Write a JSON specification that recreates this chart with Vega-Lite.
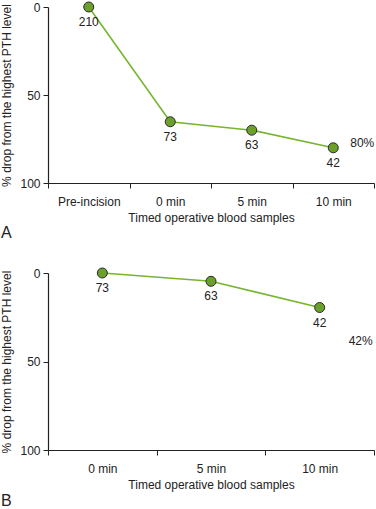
{
  "$schema": "https://vega.github.io/schema/vega-lite/v6.json",
  "padding": {"left": 0, "top": 0, "right": 0, "bottom": 5},
  "config": {
    "font": "Liberation Sans",
    "view": {"stroke": null},
    "axis": {
      "labelFontSize": 12, "titleFontSize": 12, "titleFontWeight": "normal",
      "labelColor": "#222", "titleColor": "#222", "domainColor": "#222", "tickColor": "#222",
      "grid": false, "tickSize": 5, "domainWidth": 1.2
    },
    "title": {"fontSize": 16, "fontWeight": "normal", "color": "#222"}
  },
  "datasets": {
    "a": [
      {"sample": "Pre-incision", "drop": 0, "pth": "210"},
      {"sample": "0 min", "drop": 65.2, "pth": "73"},
      {"sample": "5 min", "drop": 70, "pth": "63"},
      {"sample": "10 min", "drop": 80, "pth": "42"}
    ],
    "annA": [{"sample": "10 min", "drop": 77.5, "label": "80%"}],
    "b": [
      {"sample": "0 min", "drop": 0, "pth": "73"},
      {"sample": "5 min", "drop": 4.7, "pth": "63"},
      {"sample": "10 min", "drop": 19.5, "pth": "42"}
    ],
    "annB": [{"sample": "10 min", "drop": 38.2, "label": "42%"}]
  },
  "spacing": 25,
  "vconcat": [
    {
      "width": 326, "height": 176,
      "title": {"text": "A", "orient": "bottom", "anchor": "start", "frame": "bounds", "offset": 2},
      "encoding": {
        "x": {"field": "sample", "type": "nominal", "sort": null,
              "scale": {"domain": ["Pre-incision", "0 min", "5 min", "10 min"], "paddingInner": 0, "paddingOuter": 0},
              "axis": {"title": "Timed operative blood samples", "labelAngle": 0, "tickBand": "extent", "labelPadding": 8, "titlePadding": 5}},
        "y": {"field": "drop", "type": "quantitative",
              "scale": {"domain": [0, 100], "reverse": true, "nice": false},
              "axis": {"title": "% drop from the highest PTH level", "values": [0, 50, 100], "labelPadding": 3, "titlePadding": 6}}
      },
      "layer": [
        {"data": {"name": "a"}, "mark": {"type": "line", "color": "#77b52f", "strokeWidth": 1.6}},
        {"data": {"name": "a"}, "mark": {"type": "point", "filled": true, "fill": "#6ca02c", "stroke": "#2a2a2a", "strokeWidth": 1, "size": 100, "opacity": 1}},
        {"data": {"name": "a"}, "mark": {"type": "text", "dy": 15, "fontSize": 12, "color": "#222"}, "encoding": {"text": {"field": "pth"}}},
        {"data": {"name": "annA"}, "mark": {"type": "text", "dx": 29, "fontSize": 12, "color": "#222"}, "encoding": {"text": {"field": "label"}}}
      ]
    },
    {
      "width": 326, "height": 177,
      "title": {"text": "B", "orient": "bottom", "anchor": "start", "frame": "bounds", "offset": 3},
      "encoding": {
        "x": {"field": "sample", "type": "nominal", "sort": null,
              "scale": {"domain": ["0 min", "5 min", "10 min"], "paddingInner": 0, "paddingOuter": 0},
              "axis": {"title": "Timed operative blood samples", "labelAngle": 0, "tickBand": "extent", "labelPadding": 8, "titlePadding": 5}},
        "y": {"field": "drop", "type": "quantitative",
              "scale": {"domain": [0, 100], "reverse": true, "nice": false},
              "axis": {"title": "% drop from the highest PTH level", "values": [0, 50, 100], "labelPadding": 3, "titlePadding": 6}}
      },
      "layer": [
        {"data": {"name": "b"}, "mark": {"type": "line", "color": "#77b52f", "strokeWidth": 1.6}},
        {"data": {"name": "b"}, "mark": {"type": "point", "filled": true, "fill": "#6ca02c", "stroke": "#2a2a2a", "strokeWidth": 1, "size": 100, "opacity": 1}},
        {"data": {"name": "b"}, "mark": {"type": "text", "dy": 15, "fontSize": 12, "color": "#222"}, "encoding": {"text": {"field": "pth"}}},
        {"data": {"name": "annB"}, "mark": {"type": "text", "dx": 41, "fontSize": 12, "color": "#222"}, "encoding": {"text": {"field": "label"}}}
      ]
    }
  ]
}
